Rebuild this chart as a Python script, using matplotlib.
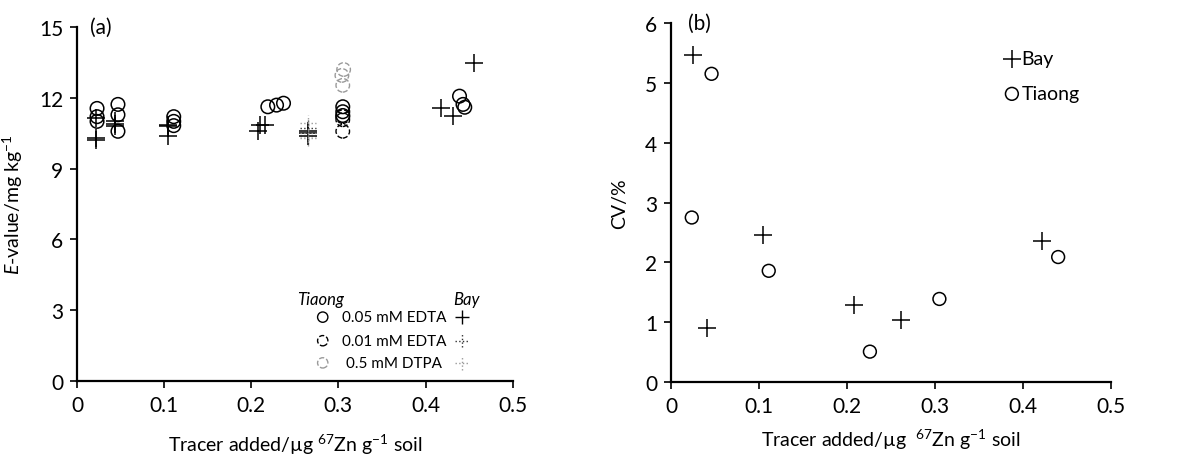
import matplotlib
matplotlib.use("Agg")
import matplotlib.pyplot as plt

plt.rcParams['font.family'] = ['Lato', 'DejaVu Sans']
plt.rcParams['mathtext.fontset'] = 'custom'
plt.rcParams['mathtext.rm'] = 'Lato'
plt.rcParams['mathtext.it'] = 'Lato:italic'
plt.rcParams['mathtext.default'] = 'regular'

# ---- panel (a): E-values ----
tiaong_edta05_x = [0.023, 0.023, 0.023, 0.047, 0.047, 0.047, 0.111, 0.111, 0.111,
                   0.219, 0.229, 0.237, 0.305, 0.305, 0.305, 0.439, 0.443, 0.445]
tiaong_edta05_y = [11.55, 11.2, 11.0, 11.72, 11.28, 10.58, 11.2, 11.0, 10.82,
                   11.62, 11.69, 11.77, 11.62, 11.41, 11.25, 12.07, 11.72, 11.6]
bay_edta05_x = [0.022, 0.022, 0.022, 0.044, 0.044, 0.044, 0.105, 0.105, 0.105,
                0.208, 0.210, 0.216, 0.265, 0.265, 0.265, 0.418, 0.432, 0.456]
bay_edta05_y = [11.15, 10.3, 10.2, 11.0, 10.9, 10.79, 10.85, 10.8, 10.4,
                10.6, 10.85, 10.85, 10.6, 10.5, 10.4, 11.58, 11.23, 13.47]

tiaong_edta001_x = [0.305, 0.305, 0.305]
tiaong_edta001_y = [11.2, 11.07, 10.58]
bay_edta001_x = [0.265, 0.265, 0.265]
bay_edta001_y = [10.72, 10.55, 10.37]

tiaong_dtpa_x = [0.306, 0.304, 0.305]
tiaong_dtpa_y = [13.2, 12.95, 12.53]
bay_dtpa_x = [0.265, 0.265, 0.265]
bay_dtpa_y = [10.95, 10.5, 10.3]

legend_labels = ['0.05 mM EDTA', '0.01 mM EDTA', '0.5 mM DTPA']
legend_y = [2.7, 1.7, 0.76]

# ---- panel (b): CV ----
bay_cv_x = [0.025, 0.041, 0.104, 0.208, 0.261, 0.422]
bay_cv_y = [5.47, 0.9, 2.46, 1.29, 1.04, 2.35]
tiaong_cv_x = [0.0235, 0.046, 0.111, 0.226, 0.305, 0.44]
tiaong_cv_y = [2.75, 5.15, 1.86, 0.51, 1.39, 2.09]

GREY = '#9a9a9a'
FS = 15     # tick labels
LFS = 14    # axis labels

fig = plt.figure(figsize=(11.92, 4.6), dpi=100)
ax1 = fig.add_axes([0.0646, 0.17, 0.3655, 0.769])
ax2 = fig.add_axes([0.563, 0.167, 0.369, 0.781])


def style(ax):
    for s in ['top', 'right']:
        ax.spines[s].set_visible(False)
    for s in ['left', 'bottom']:
        ax.spines[s].set_linewidth(1.6)
    ax.tick_params(direction='out', length=5, width=1.2, labelsize=FS, pad=5)


# panel (a)
ax1.scatter(tiaong_edta05_x, tiaong_edta05_y, s=95, marker='o', facecolors='none',
            edgecolors='black', linewidths=1.1, zorder=3)
ax1.scatter(bay_edta05_x, bay_edta05_y, s=150, marker='+', color='black',
            linewidths=1.1, zorder=3)
ax1.scatter(tiaong_edta001_x, tiaong_edta001_y, s=95, marker='o', facecolors='none',
            edgecolors='black', linewidths=1.0, linestyles='--', zorder=3)
ax1.scatter(bay_edta001_x, bay_edta001_y, s=130, marker='+', color='#333333',
            linewidths=1.0, linestyles=':', zorder=3)
ax1.scatter(tiaong_dtpa_x, tiaong_dtpa_y, s=95, marker='o', facecolors='none',
            edgecolors=GREY, linewidths=1.0, linestyles='--', zorder=3)
ax1.scatter(bay_dtpa_x, bay_dtpa_y, s=120, marker='+', color=GREY,
            linewidths=1.0, linestyles=':', zorder=3)

# hand-made legend
ax1.text(0.279, 3.45, 'Tiaong', style='italic', fontsize=12, ha='center', va='center')
ax1.text(0.447, 3.45, 'Bay', style='italic', fontsize=12, ha='center', va='center')
leg_circle_style = [('black', '-'), ('black', '--'), (GREY, '--')]
leg_cross_style = [('black', '-'), ('#333333', ':'), (GREY, ':')]
for lab, ly, (cc, cl), (pc, pl) in zip(legend_labels, legend_y, leg_circle_style, leg_cross_style):
    ax1.scatter([0.282], [ly], s=55, marker='o', facecolors='none', edgecolors=cc,
                linewidths=1.0, linestyles=cl)
    ax1.scatter([0.442], [ly], s=95, marker='+', color=pc, linewidths=1.0, linestyles=pl)
    ax1.text(0.364, ly, lab, fontsize=11, ha='center', va='center')

ax1.text(0.015, 15.0, '(a)', fontsize=FS, ha='left', va='center')
ax1.set_xlim(0, 0.5)
ax1.set_ylim(0, 15)
ax1.set_xticks([0, 0.1, 0.2, 0.3, 0.4, 0.5])
ax1.set_xticklabels(['0', '0.1', '0.2', '0.3', '0.4', '0.5'])
ax1.set_yticks([0, 3, 6, 9, 12, 15])
ax1.set_xlabel(r'Tracer added/µg $^{67}$Zn g$^{-1}$ soil', fontsize=LFS, labelpad=12)
ax1.set_ylabel(r'$\mathit{E}$-value/mg kg$^{-1}$', fontsize=LFS, labelpad=10)
style(ax1)

# panel (b)
ax2.scatter(bay_cv_x, bay_cv_y, s=160, marker='+', color='black', linewidths=1.1,
            label='Bay', zorder=3)
ax2.scatter(tiaong_cv_x, tiaong_cv_y, s=85, marker='o', facecolors='none',
            edgecolors='black', linewidths=1.1, label='Tiaong', zorder=3)
ax2.legend(loc='upper left', bbox_to_anchor=(0.735, 0.945), frameon=False, fontsize=LFS,
           handletextpad=0.0, handlelength=1.0, labelspacing=0.9, borderaxespad=0)
ax2.text(0.019, 6.0, '(b)', fontsize=FS, ha='left', va='center')
ax2.set_xlim(0, 0.5)
ax2.set_ylim(0, 6)
ax2.set_xticks([0, 0.1, 0.2, 0.3, 0.4, 0.5])
ax2.set_xticklabels(['0', '0.1', '0.2', '0.3', '0.4', '0.5'])
ax2.set_yticks([0, 1, 2, 3, 4, 5, 6])
ax2.set_xlabel(r'Tracer added/µg  $^{67}$Zn g$^{-1}$ soil', fontsize=LFS, labelpad=8)
ax2.set_ylabel('CV/%', fontsize=LFS, labelpad=12)
style(ax2)

fig.savefig('out.png', dpi=100)
